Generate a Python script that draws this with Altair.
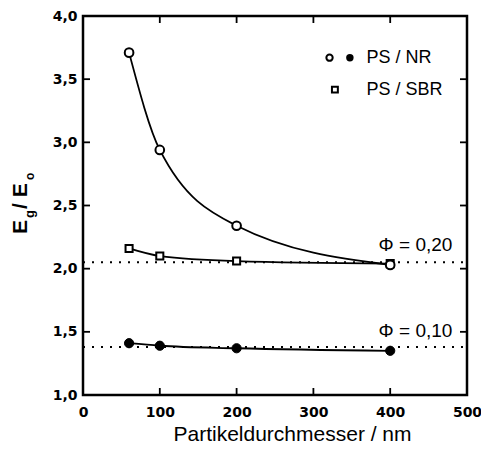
import altair as alt
import pandas as pd

# ---- data ----
diam = [60, 100, 200, 400]
nr_020 = [3.71, 2.94, 2.34, 2.03]      # PS/NR, Phi = 0.20 (open circles)
sbr_020 = [2.16, 2.10, 2.06, 2.04]     # PS/SBR, Phi = 0.20 (open squares)
nr_010 = [1.41, 1.39, 1.37, 1.35]      # PS/NR, Phi = 0.10 (filled circles)
ref_levels = [2.05, 1.38]              # dotted reference lines
ref_labels = ["Φ = 0,20", "Φ = 0,10"]
x_ticks = [0, 100, 200, 300, 400, 500]
y_ticks = [1.0, 1.5, 2.0, 2.5, 3.0, 3.5, 4.0]
inner_x_ticks = [100, 200, 300, 400]
inner_y_ticks = [1.5, 2.0, 2.5, 3.0, 3.5]

W, H = 384, 379
TICK_FONT = "DejaVu Sans"
FONT = "Liberation Sans"

rows = []
for name, vals in [("nr20", nr_020), ("sbr20", sbr_020), ("nr10", nr_010)]:
    for d, v in zip(diam, vals):
        rows.append({"d": d, "v": v, "s": name})
df = pd.DataFrame(rows)

xs = alt.Scale(domain=[0, 500], nice=False)
ys = alt.Scale(domain=[1, 4], nice=False)

xaxis = alt.Axis(values=x_ticks, grid=False, domain=False, ticks=False,
                 labelFont=TICK_FONT, labelFontWeight="bold", labelFontSize=14,
                 labelColor="black", labelPadding=10, labelFlush=False,
                 title="Partikeldurchmesser / nm", titleFont=FONT,
                 titleFontWeight="normal", titleFontSize=21, titleColor="black",
                 titlePadding=4, titleX=209)
yaxis = alt.Axis(values=y_ticks, grid=False, domain=False, ticks=False,
                 labelFont=TICK_FONT, labelFontWeight="bold", labelFontSize=14,
                 labelColor="black", labelPadding=6, labelFlush=False,
                 labelExpr="replace(format(datum.value, '.1f'), '.', ',')",
                 title=None)

base = alt.Chart(df)

# dotted reference lines
ref_df = pd.DataFrame({"lvl": ref_levels})
dotted = alt.Chart(ref_df).mark_rule(color="black", strokeWidth=2,
                                     strokeDash=[2, 7]).encode(
    y=alt.Y("lvl:Q", scale=ys, axis=yaxis),
    x=alt.datum(0, scale=xs),
    x2=alt.datum(500),
)

lines = base.mark_line(color="black", strokeWidth=1.8, interpolate="monotone").encode(
    x=alt.X("d:Q", scale=xs, axis=xaxis),
    y=alt.Y("v:Q", scale=ys, axis=yaxis),
    detail="s:N",
)

sq = base.transform_filter(alt.datum.s == "sbr20").mark_point(
    shape="square", size=50, filled=True, fill="white", stroke="black",
    strokeWidth=2, opacity=1).encode(x="d:Q", y="v:Q")
oc = base.transform_filter(alt.datum.s == "nr20").mark_point(
    shape="circle", size=75, filled=True, fill="white", stroke="black",
    strokeWidth=2, opacity=1).encode(x="d:Q", y="v:Q")
fc = base.transform_filter(alt.datum.s == "nr10").mark_point(
    shape="circle", size=85, filled=True, fill="black", stroke="black",
    strokeWidth=1, opacity=1).encode(x="d:Q", y="v:Q")

# reference labels
lab_df = pd.DataFrame({"lvl": [2.19, 1.51], "t": ref_labels})
labels = alt.Chart(lab_df).mark_text(font=FONT, fontSize=19, align="right",
                                     baseline="middle", color="black").encode(
    x=alt.datum(481), y="lvl:Q", text="t:N")

one = alt.Data(values=[{"k": 1}])

def txt(s, x, y, **kw):
    return alt.Chart(one).mark_text(color="black", **kw).encode(
        x=x, y=y, text=alt.value(s))

# legend (manual)
leg = [
    alt.Chart(one).mark_point(shape="circle", size=40, filled=True, fill="white",
                              stroke="black", strokeWidth=2, opacity=1).encode(
        x=alt.datum(321), y=alt.datum(3.67)),
    alt.Chart(one).mark_point(shape="circle", size=55, filled=True, fill="black",
                              opacity=1).encode(
        x=alt.datum(347.5), y=alt.datum(3.67)),
    alt.Chart(one).mark_point(shape="square", size=35, filled=True, fill="white",
                              stroke="black", strokeWidth=2, opacity=1).encode(
        x=alt.datum(328), y=alt.datum(3.417)),
    txt("PS / NR", alt.datum(369), alt.datum(3.67), font=FONT, fontSize=18,
        align="left", baseline="middle"),
    txt("PS / SBR", alt.datum(369), alt.datum(3.417), font=FONT, fontSize=18,
        align="left", baseline="middle"),
]

# y title E_g / E_o with subscripts
ytitle = [
    txt("E", alt.value(-56), alt.value(218), font=FONT, fontWeight="bold",
        fontSize=21, angle=270, align="left", baseline="alphabetic"),
    txt("g", alt.value(-49), alt.value(202), font=FONT, fontWeight="bold",
        fontSize=13, angle=270, align="left", baseline="alphabetic"),
    txt("/ E", alt.value(-56), alt.value(193), font=FONT, fontWeight="bold",
        fontSize=21, angle=270, align="left", baseline="alphabetic"),
    txt("o", alt.value(-49), alt.value(164), font=FONT, fontWeight="bold",
        fontSize=12, angle=270, align="left", baseline="alphabetic"),
]

# inward ticks
bt = pd.DataFrame({"t": inner_x_ticks})
lt = pd.DataFrame({"t": inner_y_ticks})
tick_kw = dict(color="black", strokeWidth=1.8)
ticks = [
    alt.Chart(bt).mark_rule(**tick_kw).encode(x="t:Q", y=alt.value(H), y2=alt.value(H - 7)),
    alt.Chart(bt).mark_rule(**tick_kw).encode(x="t:Q", y=alt.value(0), y2=alt.value(7)),
    alt.Chart(lt).mark_rule(**tick_kw).encode(y="t:Q", x=alt.value(0), x2=alt.value(7)),
    alt.Chart(lt).mark_rule(**tick_kw).encode(y="t:Q", x=alt.value(W), x2=alt.value(W - 7)),
]

chart = alt.layer(dotted, lines, sq, oc, fc, labels, *leg, *ytitle, *ticks).properties(
    width=W, height=H,
    background="white",
    autosize=alt.AutoSizeParams(type="none"),
    padding={"left": 75, "top": 8, "right": 14, "bottom": 49},
).configure_view(stroke="black", strokeWidth=2.5)

chart.save("out.html", embed_options={"renderer": "svg", "actions": False})
